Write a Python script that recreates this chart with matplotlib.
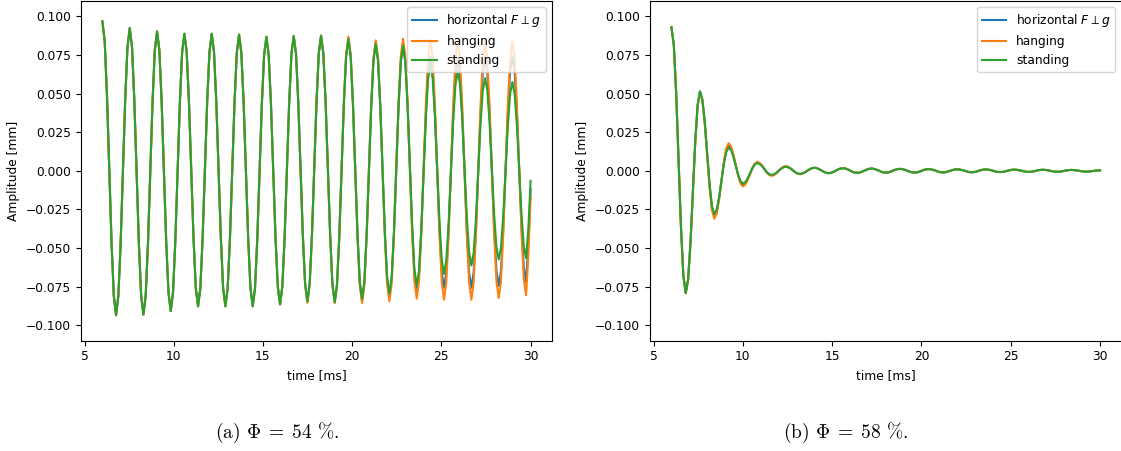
import numpy as np
import matplotlib
matplotlib.use("Agg")
import matplotlib.pyplot as plt

# ---------------- data ----------------
# left panel: Phi = 54 %, uniform sampling 6 .. 30 ms
t_left = np.linspace(6.0, 30.0, 189)

left_shared = [
    0.0968, 0.0840, 0.0492, 0.0017, -0.0459, -0.0808, -0.0935, -0.0810, -0.0470, -0.0005, 0.0460, 0.0800,
    0.0925, 0.0801, 0.0461, -0.0003, -0.0467, -0.0807, -0.0931, -0.0808, -0.0473, -0.0014, 0.0445, 0.0780,
    0.0903, 0.0782, 0.0450, -0.0003, -0.0455, -0.0787, -0.0908, -0.0788, -0.0459, -0.0010, 0.0439, 0.0768,
    0.0888, 0.0770, 0.0447, 0.0006, -0.0436, -0.0759, -0.0877, -0.0759, -0.0436, 0.0006, 0.0447, 0.0770,
    0.0888, 0.0770, 0.0447, 0.0006, -0.0436, -0.0759, -0.0877, -0.0759, -0.0437, 0.0003, 0.0442, 0.0764,
    0.0882, 0.0764, 0.0442, 0.0003, -0.0437, -0.0759, -0.0877, -0.0760, -0.0441, -0.0005, 0.0432, 0.0751,
    0.0868, 0.0752, 0.0435, 0.0002, -0.0432, -0.0749, -0.0865, -0.0749, -0.0431, 0.0004, 0.0439, 0.0757,
]

left_horizontal_late = [
    0.0873, 0.0758, 0.0442, 0.0012, -0.0419, -0.0735, -0.0850, -0.0734, -0.0419, 0.0013, 0.0444, 0.0759,
    0.0875, 0.0759, 0.0443, 0.0011, -0.0421, -0.0737, -0.0853, -0.0738, -0.0425, 0.0004, 0.0432, 0.0745,
    0.0860, 0.0746, 0.0435, 0.0009, -0.0417, -0.0728, -0.0842, -0.0730, -0.0424, -0.0005, 0.0414, 0.0720,
    0.0832, 0.0722, 0.0422, 0.0011, -0.0400, -0.0700, -0.0810, -0.0701, -0.0404, 0.0003, 0.0409, 0.0706,
    0.0815, 0.0709, 0.0418, 0.0021, -0.0377, -0.0668, -0.0774, -0.0672, -0.0395, -0.0016, 0.0363, 0.0640,
    0.0742, 0.0642, 0.0367, -0.0008, -0.0382, -0.0657, -0.0757, -0.0657, -0.0384, -0.0011, 0.0362, 0.0635,
    0.0735, 0.0635, 0.0362, -0.0011, -0.0384, -0.0657, -0.0757, -0.0657, -0.0384, -0.0011, 0.0362, 0.0635,
    0.0735, 0.0636, 0.0365, -0.0005, -0.0375, -0.0646, -0.0745, -0.0646, -0.0374, -0.0003, 0.0369, 0.0641,
    0.0740, 0.0642, 0.0375, 0.0010, -0.0355, -0.0622, -0.0720, -0.0480, -0.0120,
]

left_hanging_late = [
    0.0873, 0.0757, 0.0441, 0.0010, -0.0422, -0.0738, -0.0854, -0.0738, -0.0421, 0.0012, 0.0444, 0.0761,
    0.0877, 0.0761, 0.0444, 0.0011, -0.0423, -0.0740, -0.0856, -0.0740, -0.0425, 0.0007, 0.0438, 0.0754,
    0.0869, 0.0754, 0.0438, 0.0007, -0.0425, -0.0740, -0.0856, -0.0742, -0.0431, -0.0006, 0.0420, 0.0731,
    0.0845, 0.0732, 0.0423, 0.0000, -0.0423, -0.0732, -0.0845, -0.0731, -0.0420, 0.0006, 0.0431, 0.0742,
    0.0856, 0.0743, 0.0435, 0.0014, -0.0407, -0.0715, -0.0828, -0.0716, -0.0410, 0.0009, 0.0427, 0.0733,
    0.0845, 0.0733, 0.0425, 0.0006, -0.0414, -0.0722, -0.0834, -0.0722, -0.0416, 0.0003, 0.0421, 0.0727,
    0.0839, 0.0727, 0.0421, 0.0003, -0.0416, -0.0722, -0.0834, -0.0723, -0.0418, -0.0002, 0.0414, 0.0719,
    0.0830, 0.0719, 0.0417, 0.0003, -0.0411, -0.0713, -0.0824, -0.0713, -0.0408, 0.0008, 0.0423, 0.0728,
    0.0839, 0.0729, 0.0428, 0.0017, -0.0395, -0.0696, -0.0806, -0.0560, -0.0170,
]

left_standing_late = [
    0.0873, 0.0758, 0.0444, 0.0014, -0.0416, -0.0730, -0.0845, -0.0730, -0.0415, 0.0015, 0.0445, 0.0760,
    0.0875, 0.0759, 0.0444, 0.0013, -0.0419, -0.0734, -0.0850, -0.0736, -0.0425, 0.0001, 0.0427, 0.0738,
    0.0852, 0.0739, 0.0432, 0.0012, -0.0408, -0.0715, -0.0828, -0.0718, -0.0416, -0.0004, 0.0408, 0.0710,
    0.0820, 0.0712, 0.0416, 0.0012, -0.0392, -0.0688, -0.0796, -0.0688, -0.0395, 0.0007, 0.0409, 0.0702,
    0.0810, 0.0706, 0.0422, 0.0034, -0.0354, -0.0638, -0.0742, -0.0646, -0.0383, -0.0024, 0.0336, 0.0599,
    0.0695, 0.0604, 0.0355, 0.0014, -0.0327, -0.0576, -0.0667, -0.0579, -0.0339, -0.0011, 0.0317, 0.0557,
    0.0645, 0.0561, 0.0331, 0.0016, -0.0299, -0.0529, -0.0613, -0.0532, -0.0310, -0.0007, 0.0297, 0.0519,
    0.0600, 0.0521, 0.0307, 0.0013, -0.0281, -0.0495, -0.0574, -0.0497, -0.0287, 0.0001, 0.0288, 0.0498,
    0.0575, 0.0499, 0.0290, 0.0005, -0.0280, -0.0489, -0.0565, -0.0380, -0.0065,
]

left_horizontal = left_shared + left_horizontal_late
left_hanging = left_shared + left_hanging_late
left_standing = left_shared + left_standing_late

# right panel: Phi = 58 %, uniform sampling 6 .. 30 ms
t_right = np.linspace(6.0, 30.0, 181)

right_horizontal_head = [
    0.0930, 0.0815, 0.0500, 0.0069, -0.0362, -0.0677,
    -0.0792, -0.0705, -0.0466, -0.0140, 0.0187, 0.0426,
    0.0513, 0.0459, 0.0312, 0.0111, -0.0091, -0.0238,
    -0.0292, -0.0262, -0.0178, -0.0065, 0.0049, 0.0133,
    0.0163, 0.0146, 0.0100, 0.0037, -0.0027, -0.0073,
    -0.0090, -0.0080, -0.0054, -0.0018, 0.0018, 0.0044,
    0.0054, 0.0048, 0.0033, 0.0013, -0.0008, -0.0023,
    -0.0029, -0.0025, -0.0015, -0.0001, 0.0014, 0.0024,
    0.0028, 0.0025, 0.0016, 0.0004, -0.0009, -0.0018,
    -0.0021,
]

right_hanging_head = [
    0.0930, 0.0815, 0.0500, 0.0069, -0.0362, -0.0677,
    -0.0792, -0.0705, -0.0467, -0.0142, 0.0183, 0.0421,
    0.0508, 0.0453, 0.0304, 0.0099, -0.0106, -0.0255,
    -0.0310, -0.0277, -0.0188, -0.0066, 0.0057, 0.0146,
    0.0179, 0.0160, 0.0109, 0.0039, -0.0031, -0.0082,
    -0.0101, -0.0090, -0.0061, -0.0022, 0.0018, 0.0047,
    0.0058, 0.0052, 0.0036, 0.0013, -0.0010, -0.0026,
    -0.0032, -0.0028, -0.0017, -0.0001, 0.0015, 0.0026,
    0.0030, 0.0027, 0.0017, 0.0004, -0.0009, -0.0018,
    -0.0022,
]

right_standing_head = [
    0.0930, 0.0815, 0.0500, 0.0069, -0.0362, -0.0677,
    -0.0792, -0.0704, -0.0465, -0.0138, 0.0189, 0.0428,
    0.0516, 0.0463, 0.0317, 0.0118, -0.0081, -0.0227,
    -0.0280, -0.0251, -0.0173, -0.0065, 0.0043, 0.0121,
    0.0150, 0.0135, 0.0092, 0.0034, -0.0024, -0.0067,
    -0.0082, -0.0073, -0.0049, -0.0016, 0.0017, 0.0041,
    0.0050, 0.0045, 0.0031, 0.0012, -0.0007, -0.0021,
    -0.0026, -0.0023, -0.0013, 0.0000, 0.0013, 0.0023,
    0.0026, 0.0023, 0.0015, 0.0003, -0.0009, -0.0017,
    -0.0020,
]

right_tail = [
    -0.0017, -0.0010, 0.0000, 0.0010, 0.0017, 0.0020,
    0.0018, 0.0011, 0.0003, -0.0006, -0.0013, -0.0015,
    -0.0013, -0.0007, 0.0001, 0.0009, 0.0015, 0.0017,
    0.0015, 0.0010, 0.0002, -0.0006, -0.0011, -0.0013,
    -0.0011, -0.0006, 0.0001, 0.0008, 0.0013, 0.0015,
    0.0013, 0.0008, 0.0002, -0.0005, -0.0010, -0.0012,
    -0.0010, -0.0006, 0.0001, 0.0007, 0.0011, 0.0013,
    0.0011, 0.0007, 0.0001, -0.0005, -0.0009, -0.0011,
    -0.0010, -0.0006, 0.0000, 0.0006, 0.0010, 0.0011,
    0.0010, 0.0006, 0.0001, -0.0005, -0.0009, -0.0010,
    -0.0009, -0.0005, 0.0000, 0.0005, 0.0009, 0.0010,
    0.0009, 0.0005, 0.0001, -0.0004, -0.0008, -0.0009,
    -0.0008, -0.0005, 0.0000, 0.0005, 0.0008, 0.0009,
    0.0008, 0.0005, 0.0001, -0.0004, -0.0007, -0.0008,
    -0.0007, -0.0004, 0.0000, 0.0004, 0.0007, 0.0008,
    0.0007, 0.0004, 0.0001, -0.0003, -0.0006, -0.0007,
    -0.0006, -0.0004, 0.0000, 0.0004, 0.0006, 0.0007,
    0.0006, 0.0004, 0.0001, -0.0003, -0.0005, -0.0006,
    -0.0005, -0.0003, 0.0000, 0.0003, 0.0005, 0.0006,
    0.0005, 0.0003, 0.0001, -0.0002, -0.0004, -0.0005,
    -0.0005, -0.0003, -0.0001, 0.0001, 0.0002, 0.0003,
]

right_horizontal = right_horizontal_head + right_tail
right_hanging = right_hanging_head + right_tail
right_standing = right_standing_head + right_tail

series_labels = [r"horizontal $F\perp g$", "hanging", "standing"]
y_ticks = [-0.100, -0.075, -0.050, -0.025, 0.000, 0.025, 0.050, 0.075, 0.100]
captions = [r"(a) $\Phi\;=\;54$ %.", r"(b) $\Phi\;=\;58$ %."]

# ---------------- figure ----------------
plt.rcParams["font.size"] = 8.8

W, H = 1121, 451
fig = plt.figure(figsize=(W / 100, H / 100), dpi=100)

bottom = 1 - 340.7 / H
height = 339.7 / H
axL = fig.add_axes([81 / W, bottom, 471 / W, height])
axR = fig.add_axes([650 / W, bottom, 471.5 / W, height])

colors = ["#1f77b4", "#ff7f0e", "#2ca02c"]
panels = [
    (axL, t_left, [left_horizontal, left_hanging, left_standing]),
    (axR, t_right, [right_horizontal, right_hanging, right_standing]),
]

for ax, t, ys in panels:
    for y, c, lab in zip(ys, colors, series_labels):
        ax.plot(t, y, color=c, lw=1.5, label=lab)
    ax.set_ylim(-0.11, 0.11)
    ax.set_yticks(y_ticks)
    ax.set_xlabel("time [ms]")
    ax.set_ylabel("Amplitude [mm]")
    ax.legend(loc="upper right")

cap_x = [277, 846]
for cx, txt in zip(cap_x, captions):
    fig.text(cx / W, 1 - 433 / H, txt, ha="center", va="center",
             fontsize=14, family="cmr10", math_fontfamily="cm")

fig.savefig("out.png", dpi=100)
